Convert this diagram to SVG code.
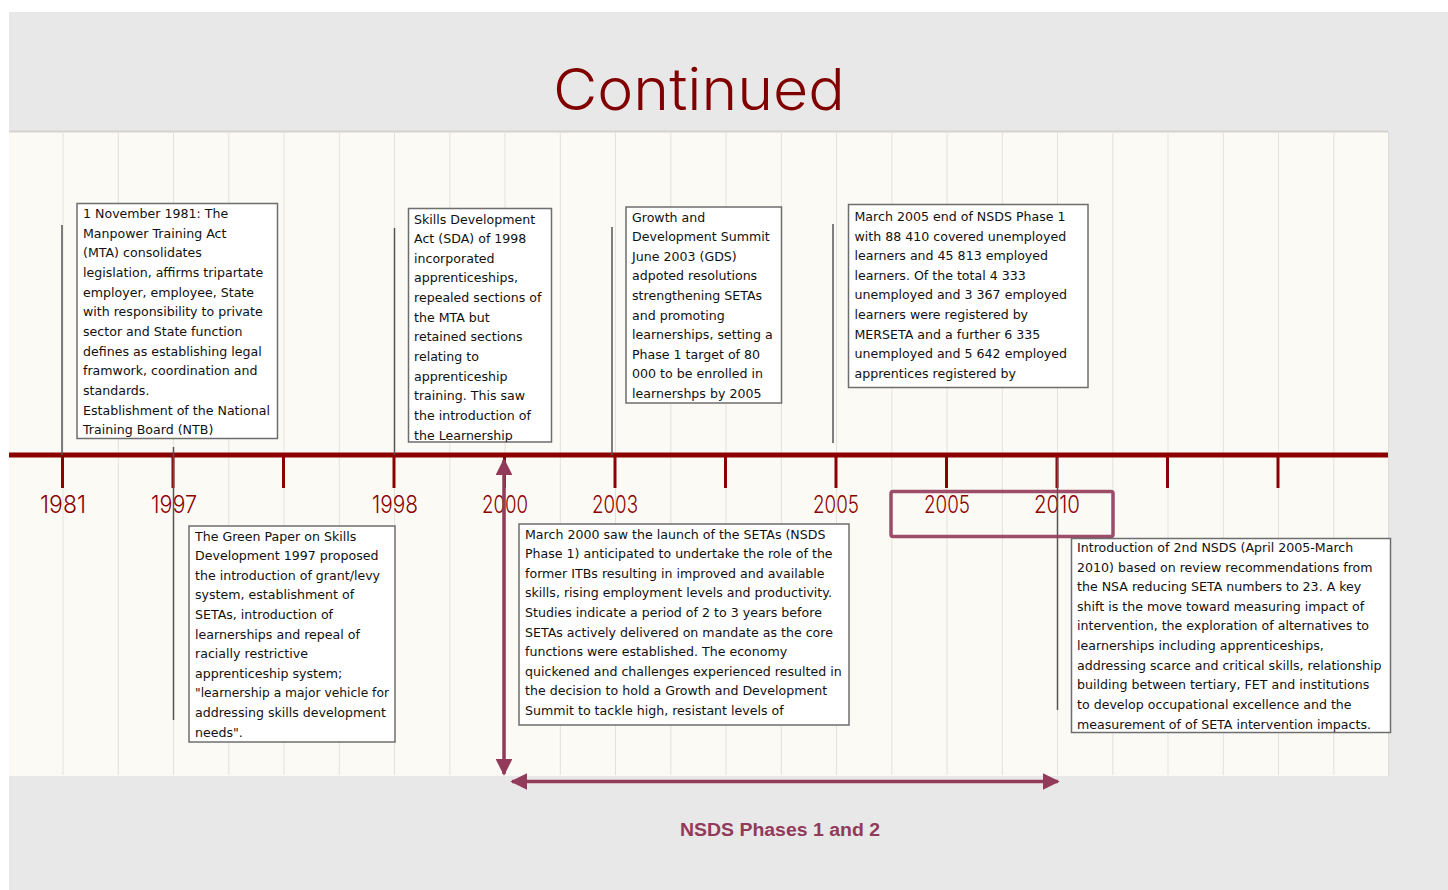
<svg xmlns="http://www.w3.org/2000/svg" width="1448" height="890" viewBox="0 0 1448 890">
<style>
.box{fill:#ffffff;stroke:#6e6e6e;stroke-width:1.5}
.bt{font-family:"DejaVu Sans","Liberation Sans",sans-serif;font-size:12.6px;fill:#111}
.yr{font-family:Inter,"Liberation Sans",sans-serif;font-weight:300;font-size:24px;fill:#8b0000;text-anchor:middle}
.grid{stroke:#e4e2dc;stroke-width:1}
.tick{stroke:#8b0000;stroke-width:3}
.conn{stroke:#555;stroke-width:1.5;fill:none}
.arr{stroke:#923a5a;stroke-width:3.5;fill:none}
</style>
<defs>
<marker id="ah" viewBox="0 0 10 10" refX="9" refY="5" markerWidth="4.8" markerHeight="4.8" orient="auto-start-reverse" markerUnits="strokeWidth">
<path d="M0,0 L10,5 L0,10 z" fill="#923a5a"/>
</marker>
<clipPath id="c2"><rect x="408" y="208" width="144" height="234"/></clipPath>
</defs>
<rect x="0" y="0" width="1448" height="890" fill="#ffffff"/>
<rect x="9" y="12" width="1439" height="878" fill="#e8e8e8"/>
<text x="699" y="110" text-anchor="middle" font-family="Inter,Liberation Sans,sans-serif" font-weight="300" font-size="58" fill="#800000" textLength="292" lengthAdjust="spacingAndGlyphs">Continued</text>
<rect x="9" y="132" width="1379" height="644" fill="#fcfaf4"/>
<line x1="9" y1="131.5" x2="1388" y2="131.5" stroke="#d2d2d2" stroke-width="2"/>
<line x1="1388.5" y1="132" x2="1388.5" y2="776" stroke="#dcdcdc" stroke-width="1"/>
<g id="grid">
<line class="grid" x1="63" y1="133" x2="63" y2="775"/><line class="grid" x1="118.3" y1="133" x2="118.3" y2="775"/><line class="grid" x1="173.5" y1="133" x2="173.5" y2="775"/><line class="grid" x1="228.8" y1="133" x2="228.8" y2="775"/><line class="grid" x1="284" y1="133" x2="284" y2="775"/><line class="grid" x1="339.3" y1="133" x2="339.3" y2="775"/><line class="grid" x1="394.5" y1="133" x2="394.5" y2="775"/><line class="grid" x1="449.8" y1="133" x2="449.8" y2="775"/><line class="grid" x1="505" y1="133" x2="505" y2="775"/><line class="grid" x1="560.3" y1="133" x2="560.3" y2="775"/><line class="grid" x1="615.5" y1="133" x2="615.5" y2="775"/><line class="grid" x1="670.8" y1="133" x2="670.8" y2="775"/><line class="grid" x1="726" y1="133" x2="726" y2="775"/><line class="grid" x1="781.3" y1="133" x2="781.3" y2="775"/><line class="grid" x1="836.5" y1="133" x2="836.5" y2="775"/><line class="grid" x1="891.8" y1="133" x2="891.8" y2="775"/><line class="grid" x1="947" y1="133" x2="947" y2="775"/><line class="grid" x1="1002.3" y1="133" x2="1002.3" y2="775"/><line class="grid" x1="1057.5" y1="133" x2="1057.5" y2="775"/><line class="grid" x1="1112.8" y1="133" x2="1112.8" y2="775"/><line class="grid" x1="1168" y1="133" x2="1168" y2="775"/><line class="grid" x1="1223.3" y1="133" x2="1223.3" y2="775"/><line class="grid" x1="1278.5" y1="133" x2="1278.5" y2="775"/><line class="grid" x1="1333.8" y1="133" x2="1333.8" y2="775"/>
</g>
<g id="axis">
<line x1="9" y1="455" x2="1388" y2="455" stroke="#8b0000" stroke-width="5"/>
<line class="tick" x1="62.5" y1="455" x2="62.5" y2="488"/><line class="tick" x1="173" y1="455" x2="173" y2="488"/><line class="tick" x1="283.5" y1="455" x2="283.5" y2="488"/><line class="tick" x1="394" y1="455" x2="394" y2="488"/><line class="tick" x1="504.5" y1="455" x2="504.5" y2="488"/><line class="tick" x1="615" y1="455" x2="615" y2="488"/><line class="tick" x1="725.5" y1="455" x2="725.5" y2="488"/><line class="tick" x1="836" y1="455" x2="836" y2="488"/><line class="tick" x1="946.5" y1="455" x2="946.5" y2="488"/><line class="tick" x1="1057" y1="455" x2="1057" y2="488"/><line class="tick" x1="1167.5" y1="455" x2="1167.5" y2="488"/><line class="tick" x1="1278" y1="455" x2="1278" y2="488"/>
<text class="yr" x="63" y="513" textLength="46" lengthAdjust="spacingAndGlyphs">1981</text>
<text class="yr" x="174" y="513" textLength="46" lengthAdjust="spacingAndGlyphs">1997</text>
<text class="yr" x="395" y="513" textLength="46" lengthAdjust="spacingAndGlyphs">1998</text>
<text class="yr" x="505" y="513" textLength="46" lengthAdjust="spacingAndGlyphs">2000</text>
<text class="yr" x="615" y="513" textLength="46" lengthAdjust="spacingAndGlyphs">2003</text>
<text class="yr" x="836" y="513" textLength="46" lengthAdjust="spacingAndGlyphs">2005</text>
<text class="yr" x="947" y="513" textLength="46" lengthAdjust="spacingAndGlyphs">2005</text>
<text class="yr" x="1057" y="513" textLength="46" lengthAdjust="spacingAndGlyphs">2010</text>
</g>
<g id="connectors">
<line class="conn" x1="62" y1="225" x2="62" y2="455"/>
<line class="conn" x1="173.5" y1="447" x2="173.5" y2="720"/>
<line class="conn" x1="394.5" y1="228" x2="394.5" y2="455"/>
<line class="conn" x1="612" y1="227" x2="612" y2="455"/>
<line class="conn" x1="833" y1="224" x2="833" y2="443"/>
<line class="conn" x1="1057.5" y1="458" x2="1057.5" y2="710"/>
<line class="arr" x1="504" y1="460" x2="504" y2="774" marker-start="url(#ah)" marker-end="url(#ah)"/>
<line class="arr" x1="512" y1="781.5" x2="1058" y2="781.5" marker-start="url(#ah)" marker-end="url(#ah)"/>
</g>
<g id="highlight">
<rect x="891" y="491.5" width="222" height="45" rx="2" fill="none" stroke="#923a5a" stroke-width="3.5" opacity="0.9"/>
</g>
<g id="box1981">
<rect class="box" x="77" y="203.5" width="200.5" height="235"/>
<text class="bt" x="83" y="218"><tspan x="83" dy="0">1 November 1981: The</tspan><tspan x="83" dy="19.66">Manpower Training Act</tspan><tspan x="83" dy="19.66">(MTA) consolidates</tspan><tspan x="83" dy="19.66">legislation, affirms tripartate</tspan><tspan x="83" dy="19.66">employer, employee, State</tspan><tspan x="83" dy="19.66">with responsibility to private</tspan><tspan x="83" dy="19.66">sector and State function</tspan><tspan x="83" dy="19.66">defines as establishing legal</tspan><tspan x="83" dy="19.66">framwork, coordination and</tspan><tspan x="83" dy="19.66">standards.</tspan><tspan x="83" dy="19.66">Establishment of the National</tspan><tspan x="83" dy="19.66">Training Board (NTB)</tspan></text>
</g>
<g id="box1998">
<rect class="box" x="408.5" y="208.5" width="143" height="233.5"/>
<text class="bt" x="414" y="223.5" clip-path="url(#c2)"><tspan x="414" dy="0">Skills Development</tspan><tspan x="414" dy="19.66">Act (SDA) of 1998</tspan><tspan x="414" dy="19.66">incorporated</tspan><tspan x="414" dy="19.66">apprenticeships,</tspan><tspan x="414" dy="19.66">repealed sections of</tspan><tspan x="414" dy="19.66">the MTA but</tspan><tspan x="414" dy="19.66">retained sections</tspan><tspan x="414" dy="19.66">relating to</tspan><tspan x="414" dy="19.66">apprenticeship</tspan><tspan x="414" dy="19.66">training.  This saw</tspan><tspan x="414" dy="19.66">the introduction of</tspan><tspan x="414" dy="19.66">the Learnership</tspan></text>
</g>
<g id="box2003">
<rect class="box" x="626" y="207" width="155.5" height="196"/>
<text class="bt" x="632" y="221.5"><tspan x="632" dy="0">Growth and</tspan><tspan x="632" dy="19.62">Development Summit</tspan><tspan x="632" dy="19.62">June 2003 (GDS)</tspan><tspan x="632" dy="19.62">adpoted resolutions</tspan><tspan x="632" dy="19.62">strengthening SETAs</tspan><tspan x="632" dy="19.62">and promoting</tspan><tspan x="632" dy="19.62">learnerships, setting a</tspan><tspan x="632" dy="19.62">Phase 1 target of 80</tspan><tspan x="632" dy="19.62">000 to be enrolled in</tspan><tspan x="632" dy="19.62">learnershps by 2005</tspan></text>
</g>
<g id="box2005">
<rect class="box" x="848.5" y="204.5" width="239.5" height="183"/>
<text class="bt" x="854.5" y="221"><tspan x="854.5" dy="0">March 2005 end of NSDS Phase 1</tspan><tspan x="854.5" dy="19.62">with 88 410 covered unemployed</tspan><tspan x="854.5" dy="19.62">learners and 45 813 employed</tspan><tspan x="854.5" dy="19.62">learners.  Of the total 4 333</tspan><tspan x="854.5" dy="19.62">unemployed and 3 367 employed</tspan><tspan x="854.5" dy="19.62">learners were registered by</tspan><tspan x="854.5" dy="19.62">MERSETA and a further 6 335</tspan><tspan x="854.5" dy="19.62">unemployed and 5 642 employed</tspan><tspan x="854.5" dy="19.62">apprentices registered by</tspan></text>
</g>
<g id="box1997">
<rect class="box" x="189" y="526" width="206" height="216"/>
<text class="bt" x="195" y="540.5"><tspan x="195" dy="0">The Green Paper on Skills</tspan><tspan x="195" dy="19.62">Development 1997 proposed</tspan><tspan x="195" dy="19.62">the introduction of grant/levy</tspan><tspan x="195" dy="19.62">system, establishment of</tspan><tspan x="195" dy="19.62">SETAs, introduction of</tspan><tspan x="195" dy="19.62">learnerships and repeal of</tspan><tspan x="195" dy="19.62">racially restrictive</tspan><tspan x="195" dy="19.62">apprenticeship system;</tspan><tspan x="195" dy="19.62" textLength="194" lengthAdjust="spacingAndGlyphs">"learnership a major vehicle for</tspan><tspan x="195" dy="19.62">addressing skills development</tspan><tspan x="195" dy="19.62">needs".</tspan></text>
</g>
<g id="box2000">
<rect class="box" x="519" y="524" width="330" height="201"/>
<text class="bt" x="525" y="538.5"><tspan x="525" dy="0">March 2000 saw the launch of the SETAs (NSDS</tspan><tspan x="525" dy="19.62">Phase 1) anticipated to undertake the role of the</tspan><tspan x="525" dy="19.62">former ITBs resulting in improved and available</tspan><tspan x="525" dy="19.62">skills, rising employment levels and productivity.</tspan><tspan x="525" dy="19.62">Studies indicate a period of 2 to 3 years before</tspan><tspan x="525" dy="19.62">SETAs actively delivered on mandate as the core</tspan><tspan x="525" dy="19.62">functions were established.  The economy</tspan><tspan x="525" dy="19.62">quickened and challenges experienced resulted in</tspan><tspan x="525" dy="19.62">the decision to hold a Growth and Development</tspan><tspan x="525" dy="19.62">Summit to tackle high, resistant levels of</tspan></text>
</g>
<g id="box2010">
<rect class="box" x="1071.5" y="538.5" width="319" height="194"/>
<text class="bt" x="1077" y="552"><tspan x="1077" dy="0">Introduction of 2nd NSDS (April 2005-March</tspan><tspan x="1077" dy="19.62">2010) based on review recommendations from</tspan><tspan x="1077" dy="19.62">the NSA reducing SETA numbers to 23.  A key</tspan><tspan x="1077" dy="19.62">shift is the move toward measuring impact of</tspan><tspan x="1077" dy="19.62">intervention, the exploration of alternatives to</tspan><tspan x="1077" dy="19.62">learnerships including apprenticeships,</tspan><tspan x="1077" dy="19.62">addressing scarce and critical skills, relationship</tspan><tspan x="1077" dy="19.62">building between tertiary, FET and institutions</tspan><tspan x="1077" dy="19.62">to develop occupational excellence and the</tspan><tspan x="1077" dy="19.62">measurement of of SETA intervention impacts.</tspan></text>
</g>
<g id="caption">
<text x="780" y="836" text-anchor="middle" font-family="Liberation Sans,Arial,sans-serif" font-size="18" font-weight="bold" fill="#923a5a" textLength="200" lengthAdjust="spacingAndGlyphs">NSDS Phases 1 and 2</text>
</g>
</svg>
